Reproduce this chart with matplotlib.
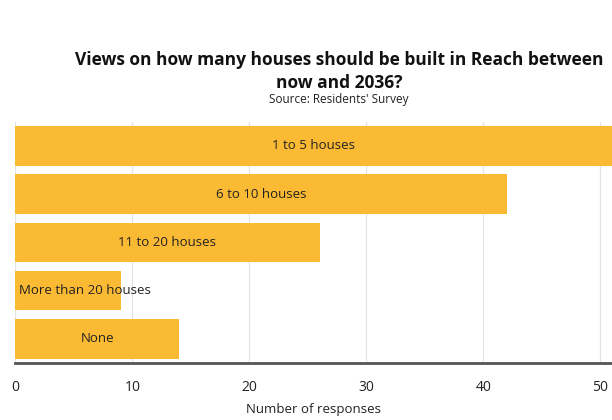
import matplotlib.pyplot as plt

plt.rcParams['font.family'] = ['Open Sans', 'DejaVu Sans']

categories = ['1 to 5 houses', '6 to 10 houses', '11 to 20 houses', 'More than 20 houses', 'None']
responses = [51, 42, 26, 9, 14]
xticks = [0, 10, 20, 30, 40, 50]

bar_color = '#FBBA33'
text_color = '#222222'

fig = plt.figure(figsize=(6.12, 4.2), dpi=100)
ax = fig.add_axes([0.025, 0.136, 0.975, 0.574])

ypos = list(range(len(categories)))[::-1]
bars = ax.barh(ypos, responses, height=0.82, color=bar_color, zorder=2)

ax.set_xlim(0, 51)
ax.set_ylim(-0.5, len(categories) - 0.5)
ax.set_yticks([])
ax.set_xticks(xticks)
ax.tick_params(axis='x', length=0, labelsize=10, colors=text_color, pad=12)
ax.grid(axis='x', color='#e4e4e4', linewidth=0.9, zorder=0)
for side in ['top', 'right', 'left']:
    ax.spines[side].set_visible(False)
ax.spines['bottom'].set_color('#555555')
ax.spines['bottom'].set_linewidth(2)
ax.set_xlabel('Number of responses', fontsize=9.5, color=text_color, labelpad=6)

# labels sit in the middle of each bar, or start at the left edge when they don't fit
fig.canvas.draw()
renderer = fig.canvas.get_renderer()
for bar, label in zip(bars, categories):
    y = bar.get_y() + bar.get_height() / 2
    w = bar.get_width()
    t = ax.text(w / 2, y, label, ha='center', va='center', fontsize=9.5,
                color=text_color, zorder=3)
    tw = t.get_window_extent(renderer).width
    bw = ax.transData.transform((w, 0))[0] - ax.transData.transform((0, 0))[0]
    if tw > bw:
        t.set_x(0.3)
        t.set_ha('left')

fig.text(0.555, 0.83, 'Views on how many houses should be built in Reach between\nnow and 2036?',
         ha='center', va='center', fontsize=12.5, fontweight='bold', color='#111111',
         linespacing=1.3)
fig.text(0.553, 0.762, "Source: Residents' Survey", ha='center', va='center',
         fontsize=8.5, color=text_color)

fig.savefig('out.png', dpi=100)
